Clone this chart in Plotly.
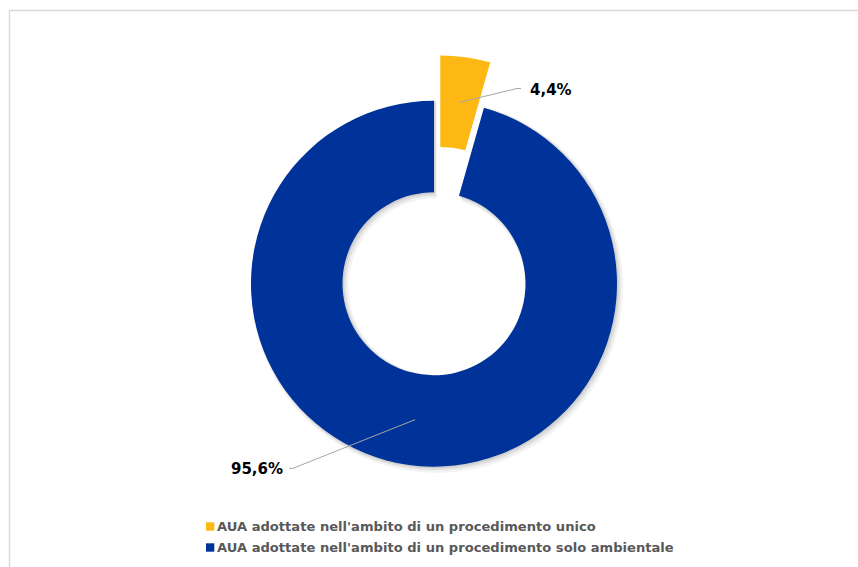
import math
import plotly.graph_objects as go

# Share of AUA (Autorizzazione Unica Ambientale) by type of procedure
categories = [
    "AUA adottate nell'ambito di un procedimento unico",
    "AUA adottate nell'ambito di un procedimento solo ambientale",
]
shares = [4.4, 95.6]
colors = ["#FDB813", "#003399"]
pulls = [0.25, 0.0]

# ---- layout constants (pixels) ----
W, H = 858, 567
CX, CY = 434.0, 283.7   # donut centre
R = 183.0               # outer radius
HOLE = 0.5
FONT = "DejaVu Sans"

def px(x):
    return x / W

def py(y):
    return 1 - y / H

# plotly shrinks the radius by (1 + max pull); size the domain so R comes out as wanted
box = 2 * R * (1 + max(pulls))
domain_x = [px(CX - box / 2), px(CX + box / 2)]
domain_y = [py(CY + box / 2), py(CY - box / 2)]

fig = go.Figure()

# soft shadow behind the large (un-pulled) slice only
for off, alpha, grow in [(3.0, 0.05, 3.0), (2.0, 0.07, 1.5), (1.0, 0.08, 0.5)]:
    rr = R + grow
    b = 2 * rr
    fig.add_trace(go.Pie(
        values=shares, labels=categories,
        marker=dict(colors=["rgba(0,0,0,0)", f"rgba(0,0,0,{alpha})"], line=dict(width=0)),
        hole=(R * HOLE - grow) / rr,
        sort=False, direction="clockwise", rotation=0,
        domain=dict(x=[px(CX + off - b / 2), px(CX + off + b / 2)],
                    y=[py(CY + off + b / 2), py(CY + off - b / 2)]),
        textinfo="none", hoverinfo="skip", showlegend=False,
    ))

fig.add_trace(go.Pie(
    values=shares,
    labels=categories,
    marker=dict(colors=colors, line=dict(width=0)),
    hole=HOLE,
    pull=pulls,
    sort=False,
    direction="clockwise",
    rotation=0,
    domain=dict(x=domain_x, y=domain_y),
    textinfo="none",
    hovertemplate="%{label}: %{value:.1f}%<extra></extra>",
    showlegend=False,
))

# data labels with leader lines (elbow point, text anchor x, side)
label_layout = [
    dict(elbow=(517.0, 88.5), tail=(521.0, 88.5), tx=528.0, ty=89.5, anchor="left"),
    dict(elbow=(293.0, 468.3), tail=(289.0, 468.3), tx=285.0, ty=468.5, anchor="right"),
]

shapes = []
annotations = []
total = sum(shares)
cum = 0.0
rmid = R * (1 + HOLE) / 2
for val, pull, lay in zip(shares, pulls, label_layout):
    theta = 2 * math.pi * (cum + val / 2) / total  # clockwise from 12 o'clock
    cum += val
    sx, sy = math.sin(theta), -math.cos(theta)
    ccx, ccy = CX + pull * R * sx, CY + pull * R * sy
    p0 = (ccx + rmid * sx, ccy + rmid * sy)
    ex, ey = lay["elbow"]
    tx_, ty_ = lay["tail"]
    shapes.append(dict(
        type="path", xref="paper", yref="paper",
        path=f"M {px(p0[0])},{py(p0[1])} L {px(ex)},{py(ey)} L {px(tx_)},{py(ty_)}",
        line=dict(color="#a6a6a6", width=1),
    ))
    annotations.append(dict(
        x=px(lay["tx"]), y=py(lay["ty"]), xref="paper", yref="paper",
        xanchor=lay["anchor"], yanchor="middle", showarrow=False,
        text="<b>" + f"{val:.1f}".replace(".", ",") + "%</b>",
        font=dict(family=FONT, size=15, color="#000000"),
    ))

# legend drawn as coloured squares + labels
legend_rows = [526.5, 547.5]
for cat, col, yy in zip(categories, colors, legend_rows):
    shapes.append(dict(
        type="rect", xref="paper", yref="paper",
        x0=px(206), x1=px(214.3), y0=py(yy + 4.2), y1=py(yy - 4.2),
        fillcolor=col, line=dict(width=0),
    ))
    annotations.append(dict(
        x=px(215.0), y=py(yy), xref="paper", yref="paper",
        xanchor="left", yanchor="middle", showarrow=False,
        text="<b>" + cat + "</b>",
        font=dict(family=FONT, size=13.1, color="#595959"),
    ))

# chart-area frame
shapes.insert(0, dict(
    type="rect", xref="paper", yref="paper",
    x0=px(9.5), x1=px(W + 20), y0=py(H + 20), y1=py(10.5),
    line=dict(color="#d9d9d9", width=1.5), fillcolor="rgba(0,0,0,0)",
    layer="below",
))

fig.update_layout(
    width=W, height=H,
    margin=dict(l=0, r=0, t=0, b=0),
    paper_bgcolor="#ffffff",
    plot_bgcolor="#ffffff",
    showlegend=False,
    shapes=shapes,
    annotations=annotations,
    font=dict(family=FONT),
)

fig.write_html("out.html")
